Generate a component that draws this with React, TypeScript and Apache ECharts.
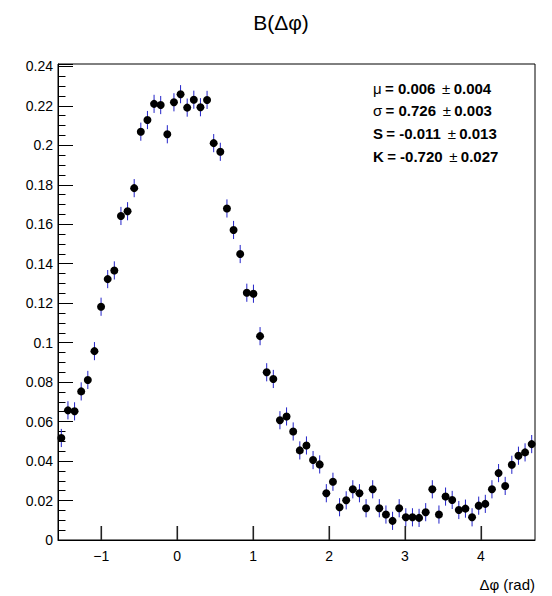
import React, { useEffect, useRef } from "react";
import * as echarts from "echarts";

const XMIN = -Math.PI / 2;
const XMAX = (3 * Math.PI) / 2;
const NBINS = 72;
const YMAX = 0.2412;
const ERR = 0.0046;

const values: number[] = [
  0.0517, 0.0657, 0.0652, 0.0753, 0.0811, 0.0957, 0.1182, 0.1322, 0.1366, 0.1642,
  0.1666, 0.1783, 0.2069, 0.2128, 0.221, 0.2204, 0.2056, 0.2218, 0.2259, 0.2191,
  0.2231, 0.2193, 0.223, 0.2011, 0.1967, 0.168, 0.1571, 0.1449, 0.1253, 0.1248,
  0.1033, 0.085, 0.0816, 0.0607, 0.0626, 0.055, 0.0454, 0.0479, 0.0405, 0.0383,
  0.0237, 0.0295, 0.0166, 0.0201, 0.0257, 0.0237, 0.0161, 0.0257, 0.0161, 0.0129,
  0.0097, 0.0161, 0.0115, 0.0115, 0.0112, 0.0141, 0.0257, 0.0129, 0.022, 0.0203,
  0.0152, 0.0159, 0.0115, 0.0174, 0.0183, 0.0257, 0.0339, 0.0274, 0.0381, 0.0427,
  0.0444, 0.0486,
];

const xTickValues = [-1, 0, 1, 2, 3, 4];

const statsLines = [
  ["μ", "= 0.006", "0.004"],
  ["σ", "= 0.726", "0.003"],
  ["S", "= -0.011", "0.013"],
  ["K", "= -0.720", "0.027"],
];

const FONT = "'Liberation Sans', Arial, Helvetica, sans-serif";

export default function App() {
  const ref = useRef<HTMLDivElement>(null);
  useEffect(() => {
    document.body.style.margin = "0";
    if (!ref.current) return;
    const chart = echarts.init(ref.current, null, { renderer: "svg" });
    const w = (XMAX - XMIN) / NBINS;
    const pts = values.map((v, i) => [XMIN + (i + 0.5) * w, v, ERR]);

    const statGraphics = statsLines.map((l, i) => ({
      type: "text",
      x: 373,
      y: 88 + i * 22.8,
      style: {
        text: `{${l[0] === "μ" || l[0] === "σ" ? "g" : "b"}|${l[0]}} {b|${l[1]}}  {g|±} {b|${l[2]}}`,
        textVerticalAlign: "middle",
        rich: {
          b: { fontFamily: FONT, fontSize: 15, fontWeight: "bold", fill: "#000" },
          g: { fontFamily: FONT, fontSize: 15, fontWeight: "normal", fill: "#000" },
        },
      },
    }));

    chart.setOption({
      animation: false,
      backgroundColor: "#fff",
      textStyle: { fontFamily: FONT },
      grid: {
        left: 58,
        right: 17,
        top: 64,
        bottom: 56,
        show: true,
        borderColor: "#000",
        borderWidth: 1,
        backgroundColor: "transparent",
      },
      xAxis: {
        type: "value",
        min: XMIN,
        max: XMAX,
        axisLine: { show: true, onZero: false, lineStyle: { color: "#000", width: 1 } },
        axisTick: { show: false },
        axisLabel: {
          customValues: xTickValues,
          color: "#000",
          fontSize: 14,
          fontFamily: FONT,
          margin: 9,
          formatter: (v: number) => (v < 0 ? "−" + Math.abs(v) : String(v)),
        },
        splitLine: { show: false },
      },
      yAxis: {
        type: "value",
        min: 0,
        max: YMAX,
        interval: 0.02,
        axisLine: { show: true, onZero: false, lineStyle: { color: "#000", width: 1 } },
        axisTick: { show: true, inside: true, length: 15, lineStyle: { color: "#000", width: 1 } },
        minorTick: { show: true, splitNumber: 4, length: 7.5, lineStyle: { color: "#000", width: 1 } },
        axisLabel: {
          color: "#000",
          fontSize: 14,
          fontFamily: FONT,
          margin: 5,
          showMaxLabel: false,
          formatter: (v: number) => {
            const r = Math.round(v * 100) / 100;
            if (Math.abs(r - v) > 1e-6) return "";
            return String(r);
          },
        },
        splitLine: { show: false },
        minorSplitLine: { show: false },
      },
      series: [
        {
          type: "custom",
          data: pts,
          encode: { x: 0, y: 1 },
          renderItem: (params: any, api: any) => {
            const x = api.value(0);
            const y = api.value(1);
            const e = api.value(2);
            const p1 = api.coord([x, y - e]);
            const p2 = api.coord([x, y + e]);
            return {
              type: "line",
              shape: { x1: p1[0], y1: p1[1], x2: p2[0], y2: p2[1] },
              style: { stroke: "#2323c8", lineWidth: 1 },
            };
          },
          z: 1,
        },
        {
          type: "scatter",
          data: pts.map((p) => [p[0], p[1]]),
          symbol: "circle",
          symbolSize: 8,
          itemStyle: { color: "#000", opacity: 1 },
          z: 2,
        },
      ],
    });

    const tickPix = xTickValues.map((v) => chart.convertToPixel({ gridIndex: 0 }, [v, 0]) as number[]);
    const tickGraphics = tickPix.map((p) => ({
      type: "rect",
      z: 10,
      shape: { x: Math.round(p[0]) - 0.5, y: p[1] - 14, width: 1.6, height: 14 },
      style: { fill: "#222" },
    }));

    chart.setOption({
      graphic: [
        {
          type: "text",
          x: 281,
          y: 22,
          style: {
            text: "B(Δφ)",
            fontFamily: FONT,
            fontSize: 21,
            fill: "#000",
            textAlign: "center",
            textVerticalAlign: "middle",
          },
        },
        {
          type: "text",
          x: 535,
          y: 584,
          style: {
            text: "Δφ (rad)",
            fontFamily: FONT,
            fontSize: 15,
            fill: "#000",
            textAlign: "right",
            textVerticalAlign: "middle",
          },
        },
        ...statGraphics,
        ...tickGraphics,
      ],
    });
    return () => chart.dispose();
  }, []);
  return <div ref={ref} style={{ width: 552, height: 596 }} />;
}
